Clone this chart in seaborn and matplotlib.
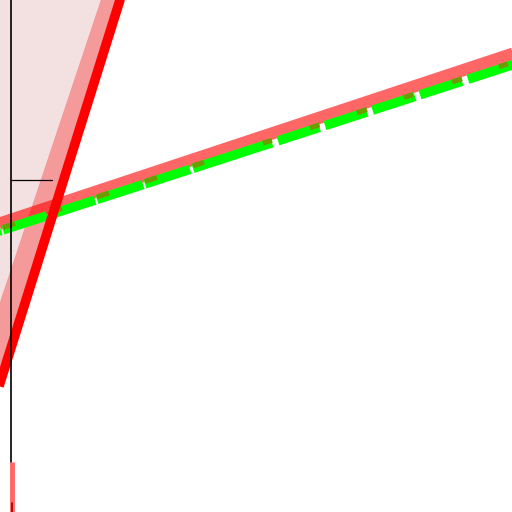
import numpy as np
import pandas as pd
import matplotlib
matplotlib.use('Agg')
import matplotlib.pyplot as plt
import seaborn as sns

# values (data units, 0..10 on both axes)
steep_y = [2.2, 10.5]
steep_x = [-0.10, 2.50]
band_edge_x = [-0.65, 2.12]
band_left_x = [-1.0, -1.0]

wide_x = [-0.2, 10.2]
wide_y = [5.569, 9.011]

green_x = [-0.195, 10.156]
green_y = [5.427, 8.781]
olive_y = [5.476, 8.830]

axis_x = [0.22, 0.22]
axis_y = [0.98, 10.2]
axis_low_y = [-0.1, 0.18]
tick_x = [0.22, 1.02]
tick_y = [6.48, 6.48]
bar_x = [0.225, 0.225]
bar_y = [-0.1, 0.98]

# dash pattern lengths (pixels along x), turned into points below
lime_dash_px = [11, 2, 44, 3, 45, 2, 46, 2, 45, 3, 79, 6, 41.5, 5.5,
                42, 5.5, 42.5, 5, 42, 6, 52, 10]
olive_dash_px = [0.01, 13, 12, 35, 12, 35, 12, 36, 12, 36, 11, 59, 9, 38,
                 9.5, 37.5, 10, 37, 9, 39, 10, 37, 9, 20]
px_to_pt = np.sqrt(1 + 0.324 ** 2) * 72 / 100
shift = 9 * px_to_pt

plt.rcParams['lines.scale_dashes'] = False
sns.set_style('white')

fig = plt.figure(figsize=(5.12, 5.12), dpi=100)
ax = fig.add_axes([0, 0, 1, 1])

# shaded bands next to the steep line
ax.fill_betweenx(steep_y, band_left_x, band_edge_x, color='#f3e1e1', lw=0, zorder=1)
ax.fill_betweenx(steep_y, band_edge_x, steep_x, color='#f59a9a', lw=0, zorder=1)

def line(x, y, **kw):
    df = pd.DataFrame({'x': x, 'y': y})
    sns.lineplot(data=df, x='x', y='y', estimator=None, sort=False, ax=ax, **kw)

line(wide_x, wide_y, color='red', alpha=0.6, linewidth=8.9,
     solid_capstyle='butt', zorder=2)
line(green_x, green_y, color='#00ff00', linewidth=6.8,
     linestyle=(shift, tuple(d * px_to_pt for d in lime_dash_px)), zorder=3)
line(green_x, olive_y, color='#6f9a00', linewidth=3.6,
     linestyle=(shift, tuple(d * px_to_pt for d in olive_dash_px)), zorder=4)
line(steep_x, steep_y, color='red', linewidth=6.9, solid_capstyle='butt', zorder=5)

line(axis_x, axis_y, color='black', linewidth=1.2, zorder=6)
line(bar_x[:1] * 2, axis_low_y, color='black', linewidth=1.2, zorder=6)
line(tick_x, tick_y, color='black', linewidth=0.9, zorder=6)
line(bar_x, bar_y, color='red', alpha=0.6, linewidth=3.5,
     solid_capstyle='butt', zorder=7)

ax.set_xlim(0, 10)
ax.set_ylim(0, 10)
ax.axis('off')

fig.savefig('out.png', dpi=100)
